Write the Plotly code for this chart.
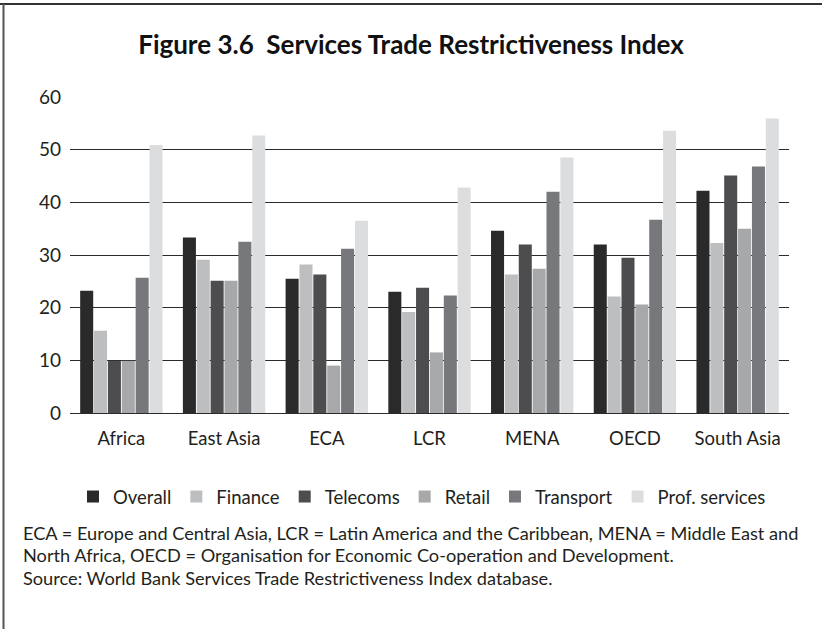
import plotly.graph_objects as go

regions = ["Africa", "East Asia", "ECA", "LCR", "MENA", "OECD", "South Asia"]
overall = [23.2, 33.3, 25.5, 23.0, 34.6, 32.0, 42.2]
finance = [15.6, 29.1, 28.2, 19.2, 26.3, 22.1, 32.3]
telecoms = [9.9, 25.1, 26.3, 23.8, 32.0, 29.5, 45.1]
retail = [9.9, 25.1, 9.0, 11.5, 27.4, 20.6, 35.0]
transport = [25.7, 32.5, 31.2, 22.3, 42.0, 36.7, 46.8]
prof_services = [50.9, 52.7, 36.5, 42.8, 48.5, 53.6, 55.9]

series = [
    ("Overall", overall, "#2a2a2a"),
    ("Finance", finance, "#bdbec0"),
    ("Telecoms", telecoms, "#4d4d4f"),
    ("Retail", retail, "#a7a8aa"),
    ("Transport", transport, "#77787b"),
    ("Prof. services", prof_services, "#dcdddf"),
]

FONT = "Lato"
TXT = "#231f20"
fig = go.Figure()
for name, vals, col in series:
    fig.add_trace(go.Bar(x=regions, y=vals, name=name, marker_color=col,
                         marker_line_width=0))

PW, PH = 719, 316
fig.update_layout(
    width=822, height=629,
    margin=dict(l=70, r=33, t=97, b=216),
    paper_bgcolor="white", plot_bgcolor="white",
    barmode="group", bargap=0.19, bargroupgap=0.06,
    font=dict(family=FONT, size=18, color=TXT),
    title=dict(text="<b>Figure 3.6  Services Trade Restrictiveness Index</b>",
               x=0.5, xanchor="center", y=1 - 45 / 629, yanchor="middle",
               font=dict(family=FONT, size=26, color="#111111")),
    xaxis=dict(showgrid=False, showline=False, ticks="", tickfont=dict(size=18.5),
               ticklabelstandoff=12),
    yaxis=dict(range=[0, 60], tickvals=[0, 10, 20, 30, 40, 50, 60],
               showgrid=True, gridcolor="#2b2b2b", gridwidth=1.3,
               zeroline=True, zerolinecolor="#2b2b2b", zerolinewidth=1.3,
               ticks="", ticklabelstandoff=8, tickfont=dict(size=19)),
    legend=dict(orientation="h", x=(422 - 70) / PW, xanchor="center",
                y=-84 / PH, yanchor="middle",
                font=dict(size=18.5), itemwidth=30, traceorder="normal"),
    shapes=[
        dict(type="line", xref="paper", yref="paper", x0=-70 / PW, x1=1 + 33 / PW,
             y0=1 + 93 / PH, y1=1 + 93 / PH, line=dict(color="#333333", width=2)),
        dict(type="line", xref="paper", yref="paper", x0=-66.5 / PW, x1=-66.5 / PW,
             y0=1 + 93 / PH, y1=-216 / PH, line=dict(color="#555555", width=2)),
    ],
)

notes = [
    ("ECA = Europe and Central Asia, LCR = Latin America and the Caribbean, MENA = Middle East and", 533),
    ("North Africa, OECD = Organisation for Economic Co-operation and Development.", 555),
    ("Source: World Bank Services Trade Restrictiveness Index database.", 578),
]
for txt, ypix in notes:
    fig.add_annotation(text=txt, xref="paper", yref="paper",
                       x=(21 - 70) / PW, y=(413 - ypix) / PH,
                       xanchor="left", yanchor="middle", showarrow=False,
                       font=dict(family=FONT, size=18.2, color=TXT))

fig.write_html("out.html", config={"displayModeBar": False},
               post_script="document.body.style.margin='0';")
